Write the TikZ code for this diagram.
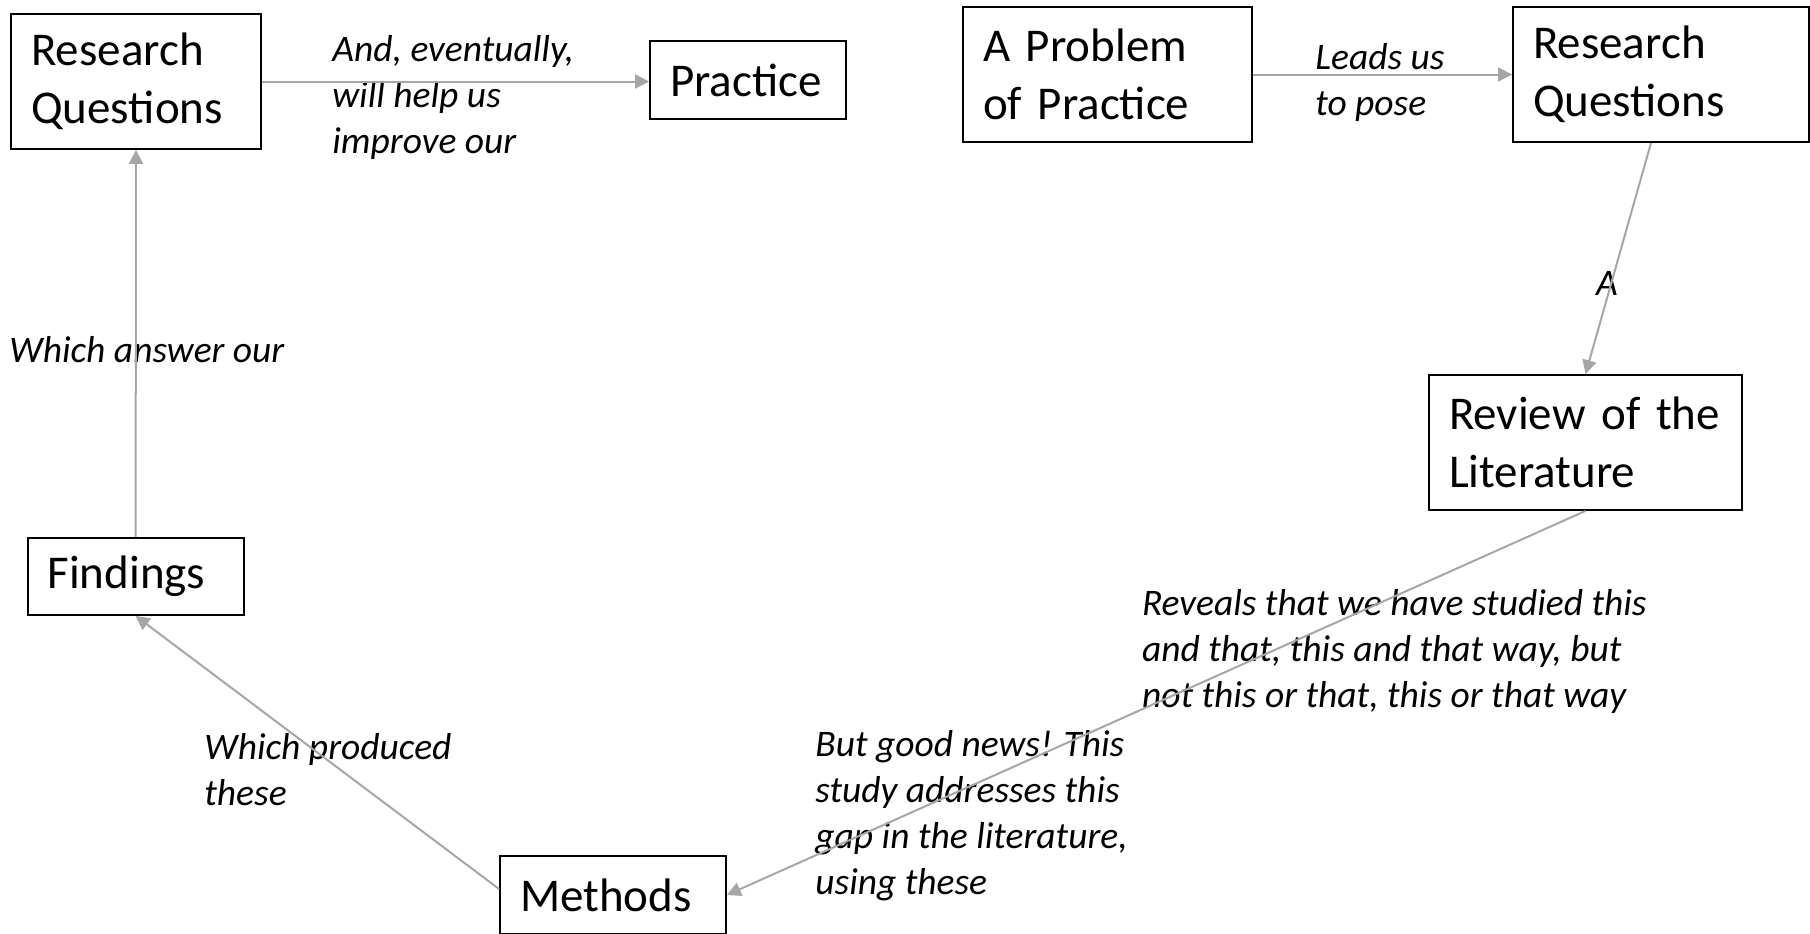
\documentclass[tikz,border=0pt]{standalone}
\usepackage{fontspec}
\setmainfont{Carlito}
\usepackage{tikz}
\usetikzlibrary{arrows.meta, calc}
\usepackage{xcolor}
\definecolor{linkgrey}{RGB}{166,166,166}

\begin{document}
\begin{tikzpicture}[x=0.5pt, y=-0.5pt,
    box/.style={draw, line width=0.9pt, align=left, inner xsep=10pt, inner ysep=0pt,
        font=\fontsize{23.5}{29}\selectfont},
    note/.style={align=left, inner sep=0pt, font=\fontsize{18.75}{23}\selectfont\itshape},
    link/.style={draw=linkgrey, line width=1pt, -{Triangle[length=7pt, width=7pt]}}]
    \useasboundingbox (0,0) rectangle (1810,933);

    % Boxes
    \node[box, text width=104.75pt, minimum height=67.5pt] (rqL) at (136,81.5) {Research\\Questions};
    \node[box, text width=78pt, minimum height=38.75pt] (practice) at (748,80) {Practice};
    \node[box, text width=124.5pt, minimum height=67.5pt] (problem) at (1107.5,74.5) {A Problem\\of Practice};
    \node[box, text width=128pt, minimum height=67.5pt] (rqR) at (1661,74.5) {Research\\Questions};
    \node[box, text width=136.5pt, minimum height=67.5pt] (review) at (1585.5,442.5) {Review of the\\Literature};
    \node[box, text width=88pt, minimum height=38.5pt] (findings) at (135.6,576.5) {Findings};
    \node[box, text width=93pt, minimum height=39pt] (methods) at (613,895) {Methods};

    % Labels
    \node[note, anchor=west] (lblPractice) at (332,97) {And, eventually,\\will help us\\improve our};
    \node[note, anchor=west] (lblPose) at (1315,82) {Leads us\\to pose};
    \node[note] (lblA) at (1607,283) {A};
    \node[note, anchor=west] (lblReveals) at (1141.6,651) {Reveals that we have studied this\\and that, this and that way, but\\not this or that, this or that way};
    \node[note, anchor=west] (lblGood) at (815,815.5) {But good news! This\\study addresses this\\gap in the literature,\\using these};
    \node[note, anchor=west] (lblProduced) at (204,769.5) {Which produced\\these};
    \node[note, anchor=west] (lblAnswer) at (9,350) {Which answer our};

    % Connectors
    \draw[link] (rqL.east) -- (rqL.east -| practice.west);
    \draw[link] (problem.east) -- (problem.east -| rqR.west);
    \draw[link] ([xshift=-5pt]rqR.south) -- (review.north);
    \draw[link] (review.south) -- (methods.east);
    \draw[link] ([yshift=3pt]methods.west) -- (findings.south);
    \draw[link] (findings.north) -- (rqL.south);
\end{tikzpicture}
\end{document}
